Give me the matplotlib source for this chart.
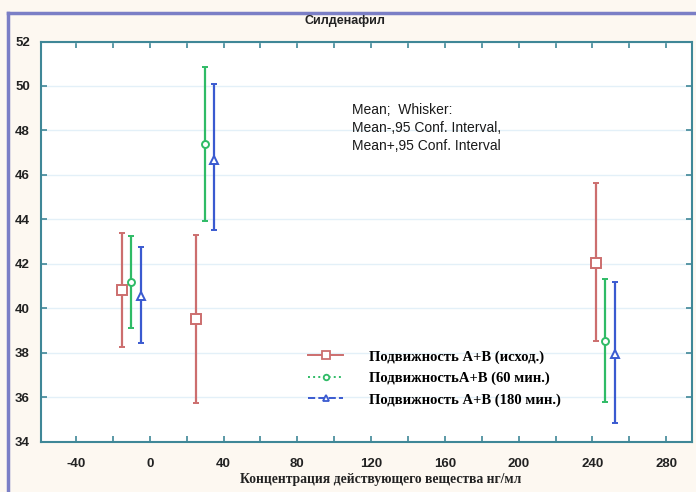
import matplotlib
matplotlib.use("Agg")
import matplotlib.pyplot as plt
from matplotlib.lines import Line2D
import numpy as np

plt.rcParams["axes.unicode_minus"] = False

# ---- data ----
series_labels = ["Подвижность А+В (исход.)", "ПодвижностьА+В (60 мин.)", "Подвижность А+В (180 мин.)"]
x_red = [-15, 25, 242]
mean_red = [40.84, 39.51, 42.05]
low_red = [38.28, 35.73, 38.51]
high_red = [43.39, 43.30, 45.64]

x_green = [-10, 30, 247]
mean_green = [41.20, 47.41, 38.55]
low_green = [39.13, 43.91, 35.77]
high_green = [43.25, 50.87, 41.33]

x_blue = [-5, 35, 252]
mean_blue = [40.54, 46.69, 37.95]
low_blue = [38.43, 43.51, 34.83]
high_blue = [42.76, 50.07, 41.18]

x_ticks = [-40, 0, 40, 80, 120, 160, 200, 240, 280]
y_ticks = [34, 36, 38, 40, 42, 44, 46, 48, 50, 52]

title = "Силденафил"
xlabel = "Концентрация действующего вещества нг/мл"
note = "Mean;  Whisker:\nMean-,95 Conf. Interval,\nMean+,95 Conf. Interval"

# ---- styling ----
W, H = 696, 492
fig = plt.figure(figsize=(W / 100, H / 100), dpi=100)
fig.patch.set_facecolor("#fdf8f1")

ax = fig.add_axes([41 / W, 1 - 441.7 / H, (692 - 41) / W, (441.7 - 41.5) / H])
ax.set_facecolor("white")

c_red = "#cc6e6e"
c_green = "#2fbb66"
c_blue = "#3a5ad0"
spine_c = "#3f8797"

def draw(xs, m, lo, hi, color, marker, ms, ls):
    m = np.array(m); lo = np.array(lo); hi = np.array(hi)
    ax.errorbar(xs, m, yerr=[m - lo, hi - m], fmt="none", ecolor=color,
                elinewidth=1.6, capsize=2.5, capthick=1.4, zorder=3)
    ax.plot(xs, m, linestyle="none", marker=marker, ms=ms, mfc="white",
            mec=color, mew=1.4, zorder=4)
    return Line2D([], [], color=color, ls=ls, lw=1.4, marker=marker, ms=ms * 0.8,
                  mfc="white", mec=color, mew=1.3)

h1 = draw(x_red, mean_red, low_red, high_red, c_red, "s", 6.5, "-")
h2 = draw(x_green, mean_green, low_green, high_green, c_green, "o", 5, ":")
h3 = draw(x_blue, mean_blue, low_blue, high_blue, c_blue, "^", 5.5, "--")

ax.set_xlim(-59, 294)
ax.set_ylim(34, 52)
ax.set_xticks(x_ticks)
ax.set_xticks(np.arange(-40, 294, 20), minor=True)
ax.set_yticks(y_ticks)
ax.grid(axis="y", color="#e3f0f8", lw=1.0, zorder=0)
ax.set_axisbelow(True)

for s in ax.spines.values():
    s.set_color(spine_c)
    s.set_linewidth(1.5)

ax.tick_params(which="both", direction="in", top=True, right=True, color=spine_c,
               length=4, width=1.2)
ax.tick_params(axis="x", which="major", pad=12)
ax.tick_params(axis="y", which="major", pad=8)
for lab in ax.get_xticklabels() + ax.get_yticklabels():
    lab.set_fontfamily("Liberation Sans")
    lab.set_fontweight("bold")
    lab.set_fontsize(9.5)
    lab.set_color("#222222")

fig.text(345 / W, 1 - 21 / H, title, ha="center", va="center",
         fontfamily="Liberation Sans", fontweight="bold", fontsize=9, color="#222222")

fig.text(352 / W, 1 - 103 / H, note, ha="left", va="top",
         fontfamily="Liberation Sans", fontsize=10, linespacing=1.35, color="#1a1a1a")

fig.text(381 / W, 1 - 479 / H, xlabel, ha="center", va="center",
         fontfamily="Liberation Serif", fontweight="bold", fontsize=9.8, color="#222222")

leg = fig.legend([h1, h2, h3], series_labels, loc="upper left",
                 bbox_to_anchor=(295 / W, 1 - 337 / H), bbox_transform=fig.transFigure,
                 frameon=False, handlelength=2.4, handletextpad=1.8, labelspacing=0.55,
                 prop={"family": "Liberation Serif", "weight": "bold", "size": 10.5})

# page frame lines (purple)
fig.add_artist(Line2D([8 / W, 1], [1 - 13 / H, 1 - 13 / H], transform=fig.transFigure,
                      color="#7b7fc6", lw=2.5))
fig.add_artist(Line2D([8 / W, 8 / W], [0, 1 - 13 / H], transform=fig.transFigure,
                      color="#7b7fc6", lw=2.5))

fig.savefig("out.png", dpi=100, facecolor=fig.get_facecolor())
